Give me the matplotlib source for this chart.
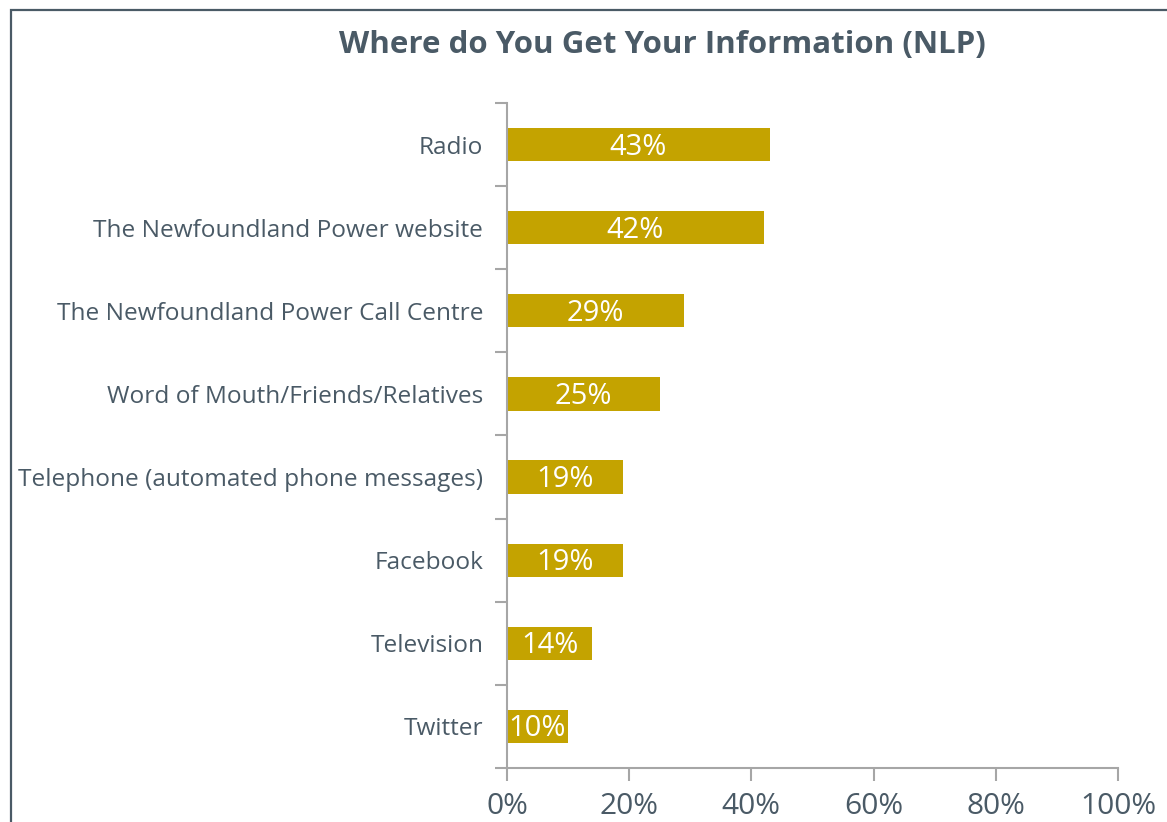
import matplotlib.pyplot as plt
from matplotlib.patches import Rectangle
from matplotlib.ticker import FixedLocator, FuncFormatter

categories = [
    "Radio",
    "The Newfoundland Power website",
    "The Newfoundland Power Call Centre",
    "Word of Mouth/Friends/Relatives",
    "Telephone (automated phone messages)",
    "Facebook",
    "Television",
    "Twitter",
]
values = [43, 42, 29, 25, 19, 19, 14, 10]
x_ticks = [0, 20, 40, 60, 80, 100]

text_color = "#4a5a66"
bar_color = "#c4a300"
axis_color = "#a6a6a6"

plt.rcParams["font.family"] = ["Open Sans", "DejaVu Sans"]

fig = plt.figure(figsize=(11.67, 8.22), dpi=100)
ax = fig.add_axes([0.4344, 0.0657, 0.5236, 0.809])

y = list(range(len(categories)))
ax.barh(y, values, height=0.4, color=bar_color)
for yi, v in zip(y, values):
    ax.text(v / 2, yi + 0.03, f"{v}%", ha="center", va="center", color="white", fontsize=21)

ax.set_xlim(0, 100)
ax.set_ylim(len(categories) - 0.5, -0.5)
ax.set_xticks(x_ticks)
ax.xaxis.set_major_formatter(FuncFormatter(lambda v, p: f"{v:.0f}%"))
ax.set_yticks(y)
ax.set_yticklabels(categories)
ax.yaxis.set_minor_locator(FixedLocator([i - 0.5 for i in range(len(categories) + 1)]))

ax.tick_params(axis="y", which="major", length=0, pad=17, labelsize=17.6, labelcolor=text_color)
ax.tick_params(axis="y", which="minor", length=9, width=1.5, color=axis_color)
ax.tick_params(axis="x", which="major", length=9, width=1.5, color=axis_color,
               labelsize=21.5, labelcolor=text_color, pad=8)

for s in ["top", "right"]:
    ax.spines[s].set_visible(False)
for s in ["left", "bottom"]:
    ax.spines[s].set_color(axis_color)
    ax.spines[s].set_linewidth(1.5)

fig.text(0.568, 0.945, "Where do You Get Your Information (NLP)", ha="center", va="center",
         fontsize=22.5, fontweight="bold", color=text_color)

fig.patches.append(Rectangle((11 / 1167, -0.1), 1.2, 0.1 + (1 - 10 / 822),
                             transform=fig.transFigure, fill=False,
                             edgecolor=text_color, linewidth=1.6))

fig.savefig("out.png", dpi=100)
